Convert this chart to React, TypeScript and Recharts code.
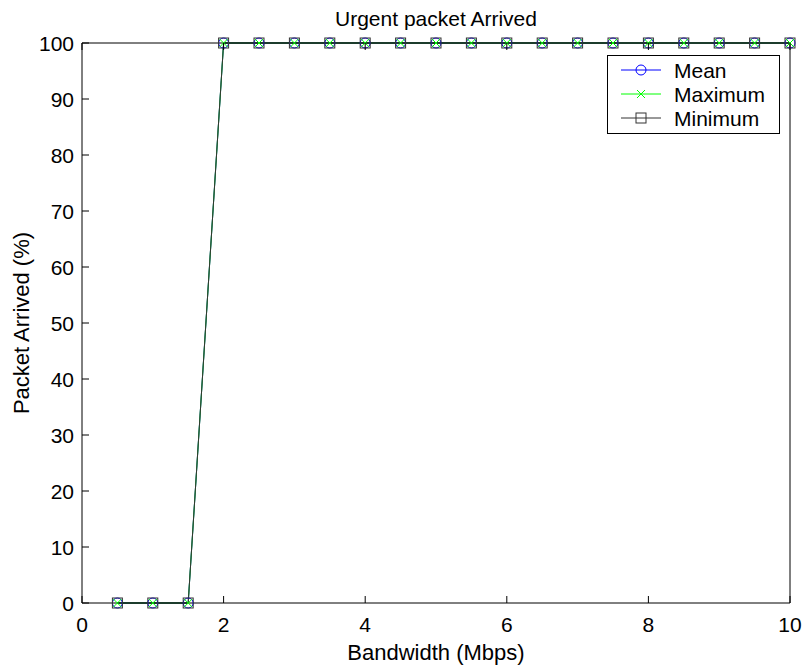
import React from 'react';
import { LineChart, Line, XAxis, YAxis, Legend } from 'recharts';

// bandwidth steps (Mbps) and arrival rate per statistic
const bandwidth = [0.5, 1, 1.5, 2, 2.5, 3, 3.5, 4, 4.5, 5, 5.5, 6, 6.5, 7, 7.5, 8, 8.5, 9, 9.5, 10];
const meanArrived = [0, 0, 0, 100, 100, 100, 100, 100, 100, 100, 100, 100, 100, 100, 100, 100, 100, 100, 100, 100];
const maxArrived = [0, 0, 0, 100, 100, 100, 100, 100, 100, 100, 100, 100, 100, 100, 100, 100, 100, 100, 100, 100];
const minArrived = [0, 0, 0, 100, 100, 100, 100, 100, 100, 100, 100, 100, 100, 100, 100, 100, 100, 100, 100, 100];

const xTicks = [0, 2, 4, 6, 8, 10];
const yTicks = [0, 10, 20, 30, 40, 50, 60, 70, 80, 90, 100];
const legendOrder = ['Mean', 'Maximum', 'Minimum'];

const data = bandwidth.map((bw, i) => ({
  bw,
  mean: meanArrived[i],
  max: maxArrived[i],
  min: minArrived[i],
}));

const FONT = '"Liberation Sans", Arial, Helvetica, sans-serif';
const TICK = 7;

const CircleDot = (p: any) => (
  <circle cx={p.cx} cy={p.cy} r={5} fill="none" stroke="#0000ff" strokeWidth={1} />
);
const CrossDot = (p: any) => (
  <path d={`M${p.cx - 4},${p.cy - 4}L${p.cx + 4},${p.cy + 4}M${p.cx - 4},${p.cy + 4}L${p.cx + 4},${p.cy - 4}`} stroke="#00ff00" strokeWidth={1} />
);
const SquareDot = (p: any) => (
  <rect x={p.cx - 5} y={p.cy - 5} width={10} height={10} fill="none" stroke="#333333" strokeWidth={1} />
);

// ticks point into the plot box, MATLAB style
const BottomTick = (p: any) => (
  <g>
    <line x1={p.x} y1={p.y} x2={p.x} y2={p.y - TICK} stroke="#000" />
    <text x={p.x} y={p.y + 29} textAnchor="middle" fontSize={21} fontFamily={FONT} fill="#000">{p.payload.value}</text>
  </g>
);
const TopTick = (p: any) => (
  <line x1={p.x} y1={p.y} x2={p.x} y2={p.y + TICK} stroke="#000" />
);
const LeftTick = (p: any) => (
  <g>
    <line x1={p.x} y1={p.y} x2={p.x + TICK} y2={p.y} stroke="#000" />
    <text x={p.x - 8} y={p.y + 8} textAnchor="end" fontSize={21} fontFamily={FONT} fill="#000">{p.payload.value}</text>
  </g>
);
const RightTick = (p: any) => (
  <line x1={p.x} y1={p.y} x2={p.x - TICK} y2={p.y} stroke="#000" />
);

const markers: Record<string, (p: any) => React.ReactElement> = {
  Mean: CircleDot,
  Maximum: CrossDot,
  Minimum: SquareDot,
};

const LegendBox = (props: any) => {
  const items = props.payload || [];
  return (
    <div style={{ width: 171, height: 77, border: '1px solid #000', background: '#fff', boxSizing: 'content-box' }}>
      <svg width={171} height={77} style={{ display: 'block' }}>
        {legendOrder.map((name, i) => {
          const it = items.find((e: any) => e.value === name);
          if (!it) return null;
          const y = 14 + i * 24;
          const M = markers[name];
          return (
            <g key={name}>
              <line x1={13} y1={y} x2={53} y2={y} stroke={it.color} strokeWidth={1} />
              <M cx={33} cy={y} />
              <text x={66} y={y + 8} fontSize={21} fontFamily={FONT} fill="#000">{name}</text>
            </g>
          );
        })}
      </svg>
    </div>
  );
};

export default function App() {
  return (
    <div style={{ position: 'absolute', left: 0, top: 0, width: 806, height: 669, background: '#fff' }}>
      <LineChart width={806} height={669} data={data} margin={{ top: 42, right: 15, bottom: 65, left: 81 }}>
        <XAxis dataKey="bw" type="number" domain={[0, 10]} ticks={xTicks} height={1} tickSize={0} tickMargin={0}
          tickLine={false} tick={<BottomTick />} axisLine={{ stroke: '#000' }} />
        <XAxis xAxisId="top" orientation="top" dataKey="bw" type="number" domain={[0, 10]} ticks={xTicks} height={1}
          tickSize={0} tickMargin={0} tickLine={false} tick={<TopTick />} axisLine={{ stroke: '#000' }} />
        <YAxis type="number" domain={[0, 100]} ticks={yTicks} width={1} tickSize={0} tickMargin={0}
          tickLine={false} tick={<LeftTick />} axisLine={{ stroke: '#000' }} />
        <YAxis yAxisId="right" orientation="right" type="number" domain={[0, 100]} ticks={yTicks} width={1}
          tickSize={0} tickMargin={0} tickLine={false} tick={<RightTick />} axisLine={{ stroke: '#000' }} />
        <Line dataKey="mean" name="Mean" stroke="#0000ff" strokeWidth={1} dot={<CircleDot />} isAnimationActive={false} />
        <Line dataKey="max" name="Maximum" stroke="#00ff00" strokeWidth={1} dot={<CrossDot />} isAnimationActive={false} />
        <Line dataKey="min" name="Minimum" stroke="#333333" strokeWidth={1} dot={<SquareDot />} isAnimationActive={false} />
        <Legend layout="vertical" align="center" verticalAlign="middle" content={<LegendBox />}
          wrapperStyle={{ top: 55, left: 607, width: 173, height: 79 }} />
        <text x={436} y={26} textAnchor="middle" fontSize={21} fontFamily={FONT} fill="#000">Urgent packet Arrived</text>
        <text x={436} y={660} textAnchor="middle" fontSize={22} fontFamily={FONT} fill="#000">Bandwidth (Mbps)</text>
        <text x={29} y={323} transform="rotate(-90 29 323)" textAnchor="middle" fontSize={22} fontFamily={FONT} fill="#000">Packet Arrived (%)</text>
      </LineChart>
    </div>
  );
}
